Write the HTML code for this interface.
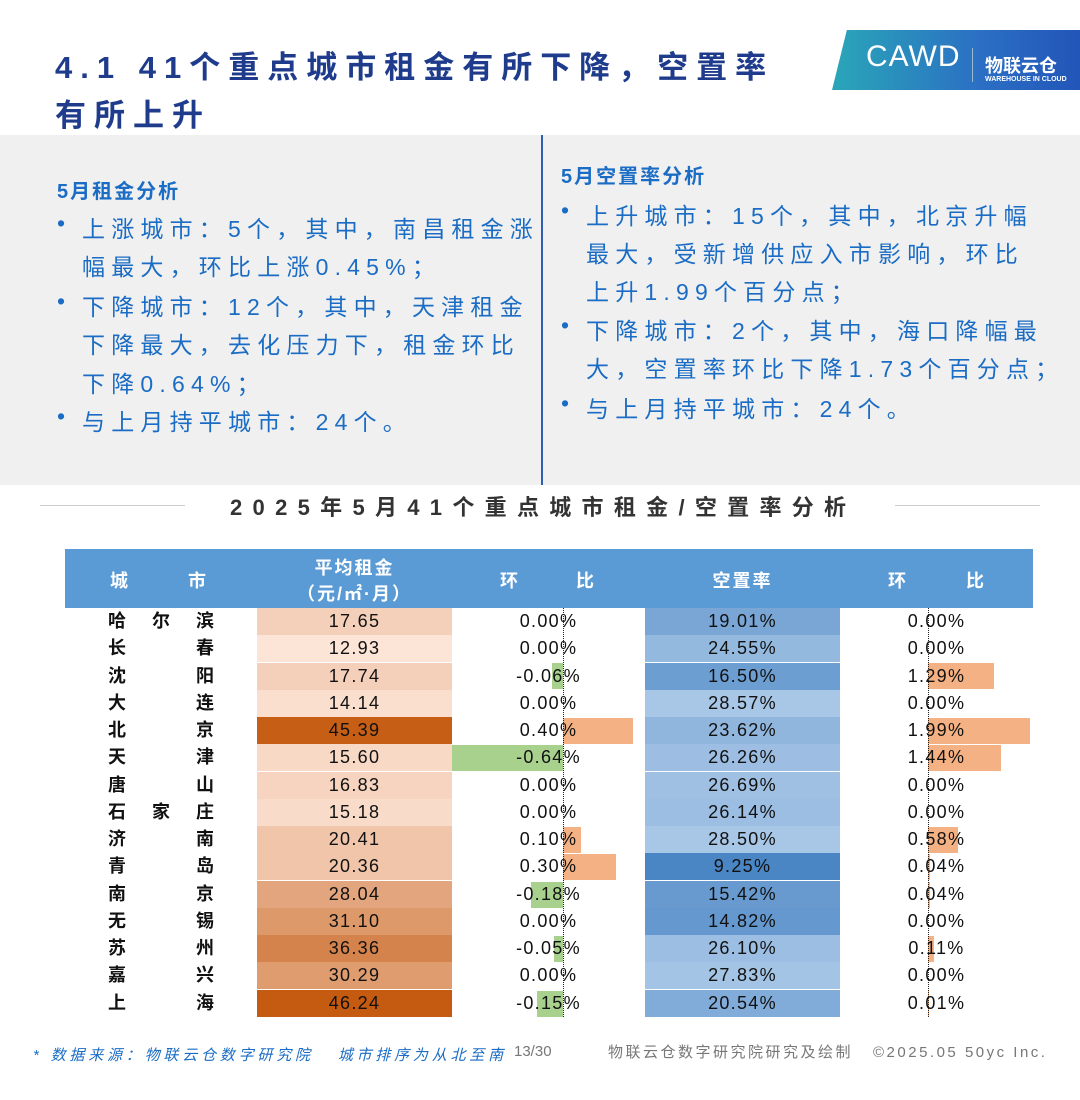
<!DOCTYPE html>
<html><head><meta charset="utf-8"><style>
*{margin:0;padding:0;box-sizing:border-box}
body{width:1080px;height:1100px;background:#fff;position:relative;overflow:hidden;font-family:"Liberation Sans","Noto Sans CJK SC",sans-serif}
.a{position:absolute;white-space:nowrap}
.t{color:#1f3b8c;font-weight:bold;font-size:31px;letter-spacing:8px}
.p{color:#1a6cc4;font-size:23px;letter-spacing:6.2px}
.h{color:#1a6cc4;font-size:20px;font-weight:bold;letter-spacing:2px}
.c{position:absolute;height:27px;line-height:27px;text-align:center;font-size:18px;color:#111;letter-spacing:1.3px}
.city{position:absolute;left:108px;width:106px;height:27px;line-height:27px;display:flex;justify-content:space-between;font-weight:bold;font-size:18px;color:#111}
.g{position:absolute;height:26px;background:#a9d18e}
.o{position:absolute;height:26px;background:#f4b183}
.hd{position:absolute;color:#fff;font-weight:bold;font-size:18px;text-align:center;letter-spacing:2px}
</style></head><body>
<div class="a t" style="left:55px;top:42px">4.1 41个重点城市租金有所下降，空置率</div>
<div class="a t" style="left:55px;top:90px">有所上升</div>
<div class="a" style="left:832px;top:30px;width:248px;height:60px;background:linear-gradient(90deg,#2aa6b8,#2b6fc4 60%,#2255b8);clip-path:polygon(6% 0,100% 0,100% 100%,0 100%)"></div>
<div class="a" style="left:866px;top:40px;color:#fff;font-size:30px;letter-spacing:1px">CAWD</div>
<div class="a" style="left:972px;top:48px;width:1px;height:34px;background:#9bc"></div>
<div class="a" style="left:985px;top:52px;color:#fff;font-size:18px;font-weight:bold">物联云仓</div>
<div class="a" style="left:985px;top:76px;color:#fff;font-size:7px;font-weight:bold">WAREHOUSE IN CLOUD</div>

<div class="a" style="left:0;top:135px;width:1080px;height:350px;background:#f0f0f0"></div>
<div class="a" style="left:541px;top:135px;width:2px;height:350px;background:#2f5fb0"></div>
<div class="a h" style="left:57px;top:175px">5月租金分析</div>
<div class="a p" style="left:57px;top:210px">•</div><div class="a p" style="left:82px;top:210px">上涨城市：5个，其中，南昌租金涨</div>
<div class="a p" style="left:82px;top:248px">幅最大，环比上涨0.45%；</div>
<div class="a p" style="left:57px;top:288px">•</div><div class="a p" style="left:82px;top:288px">下降城市：12个，其中，天津租金</div>
<div class="a p" style="left:82px;top:326px">下降最大，去化压力下，租金环比</div>
<div class="a p" style="left:82px;top:365px">下降0.64%；</div>
<div class="a p" style="left:57px;top:403px">•</div><div class="a p" style="left:82px;top:403px">与上月持平城市：24个。</div>

<div class="a h" style="left:561px;top:160px">5月空置率分析</div>
<div class="a p" style="left:561px;top:197px">•</div><div class="a p" style="left:586px;top:197px">上升城市：15个，其中，北京升幅</div>
<div class="a p" style="left:586px;top:235px">最大，受新增供应入市影响，环比</div>
<div class="a p" style="left:586px;top:273px">上升1.99个百分点；</div>
<div class="a p" style="left:561px;top:312px">•</div><div class="a p" style="left:586px;top:312px">下降城市：2个，其中，海口降幅最</div>
<div class="a p" style="left:586px;top:350px">大，空置率环比下降1.73个百分点；</div>
<div class="a p" style="left:561px;top:390px">•</div><div class="a p" style="left:586px;top:390px">与上月持平城市：24个。</div>

<div class="a" style="left:40px;top:505px;width:145px;height:1px;background:#ccc"></div>
<div class="a" style="left:895px;top:505px;width:145px;height:1px;background:#ccc"></div>
<div class="a" style="left:230px;top:490px;font-size:22px;font-weight:bold;color:#333;letter-spacing:10.3px">2025年5月41个重点城市租金/空置率分析</div>

<div class="a" style="left:65px;top:549px;width:968px;height:59px;background:#5b9bd5"></div>
<div class="hd" style="left:110px;top:567px">城</div><div class="hd" style="left:188px;top:567px">市</div>
<div class="hd" style="left:257px;top:554px;width:195px">平均租金</div>
<div class="hd" style="left:257px;top:580px;width:195px">（元/㎡·月）</div>
<div class="hd" style="left:500px;top:567px">环</div><div class="hd" style="left:576px;top:567px">比</div>
<div class="hd" style="left:645px;top:567px;width:195px">空置率</div>
<div class="hd" style="left:888px;top:567px">环</div><div class="hd" style="left:966px;top:567px">比</div>

<div class="g" style="left:552px;top:663px;width:11px"></div>
<div class="o" style="left:563px;top:718px;width:70px"></div>
<div class="g" style="left:451px;top:745px;width:112px"></div>
<div class="o" style="left:563px;top:827px;width:18px"></div>
<div class="o" style="left:563px;top:854px;width:53px"></div>
<div class="g" style="left:531px;top:882px;width:32px"></div>
<div class="g" style="left:554px;top:936px;width:9px"></div>
<div class="g" style="left:537px;top:991px;width:26px"></div>
<div class="o" style="left:928px;top:663px;width:66px"></div>
<div class="o" style="left:928px;top:718px;width:102px"></div>
<div class="o" style="left:928px;top:745px;width:73px"></div>
<div class="o" style="left:928px;top:827px;width:30px"></div>
<div class="o" style="left:928px;top:854px;width:2px"></div>
<div class="o" style="left:928px;top:882px;width:2px"></div>
<div class="o" style="left:928px;top:936px;width:6px"></div>
<div class="o" style="left:928px;top:991px;width:1px"></div>
<div class="a" style="left:563px;top:608px;height:409px;border-left:1px dotted #222"></div>
<div class="a" style="left:928px;top:608px;height:409px;border-left:1px dotted #222"></div>

<div class="city" style="top:608px"><span>哈</span><span>尔</span><span>滨</span></div>
<div class="c" style="left:257px;width:195px;top:608px;background:rgb(244,208,186)">17.65</div>
<div class="c" style="left:452px;width:193px;top:608px">0.00%</div>
<div class="c" style="left:645px;width:195px;top:608px;background:rgb(121,166,213)">19.01%</div>
<div class="c" style="left:840px;width:193px;top:608px">0.00%</div>

<div class="city" style="top:635px"><span>长</span><span>春</span></div>
<div class="c" style="left:257px;width:195px;top:635px;background:rgb(252,228,214)">12.93</div>
<div class="c" style="left:452px;width:193px;top:635px">0.00%</div>
<div class="c" style="left:645px;width:195px;top:635px;background:rgb(148,185,223)">24.55%</div>
<div class="c" style="left:840px;width:193px;top:635px">0.00%</div>

<div class="city" style="top:663px"><span>沈</span><span>阳</span></div>
<div class="c" style="left:257px;width:195px;top:663px;background:rgb(244,208,186)">17.74</div>
<div class="c" style="left:452px;width:193px;top:663px">-0.06%</div>
<div class="c" style="left:645px;width:195px;top:663px;background:rgb(109,158,209)">16.50%</div>
<div class="c" style="left:840px;width:193px;top:663px">1.29%</div>

<div class="city" style="top:690px"><span>大</span><span>连</span></div>
<div class="c" style="left:257px;width:195px;top:690px;background:rgb(250,223,207)">14.14</div>
<div class="c" style="left:452px;width:193px;top:690px">0.00%</div>
<div class="c" style="left:645px;width:195px;top:690px;background:rgb(168,198,230)">28.57%</div>
<div class="c" style="left:840px;width:193px;top:690px">0.00%</div>

<div class="city" style="top:717px"><span>北</span><span>京</span></div>
<div class="c" style="left:257px;width:195px;top:717px;background:rgb(198,94,22)">45.39</div>
<div class="c" style="left:452px;width:193px;top:717px">0.40%</div>
<div class="c" style="left:645px;width:195px;top:717px;background:rgb(144,182,221)">23.62%</div>
<div class="c" style="left:840px;width:193px;top:717px">1.99%</div>

<div class="city" style="top:744px"><span>天</span><span>津</span></div>
<div class="c" style="left:257px;width:195px;top:744px;background:rgb(248,217,198)">15.60</div>
<div class="c" style="left:452px;width:193px;top:744px">-0.64%</div>
<div class="c" style="left:645px;width:195px;top:744px;background:rgb(157,190,226)">26.26%</div>
<div class="c" style="left:840px;width:193px;top:744px">1.44%</div>

<div class="city" style="top:772px"><span>唐</span><span>山</span></div>
<div class="c" style="left:257px;width:195px;top:772px;background:rgb(246,212,191)">16.83</div>
<div class="c" style="left:452px;width:193px;top:772px">0.00%</div>
<div class="c" style="left:645px;width:195px;top:772px;background:rgb(159,192,227)">26.69%</div>
<div class="c" style="left:840px;width:193px;top:772px">0.00%</div>

<div class="city" style="top:799px"><span>石</span><span>家</span><span>庄</span></div>
<div class="c" style="left:257px;width:195px;top:799px;background:rgb(248,219,201)">15.18</div>
<div class="c" style="left:452px;width:193px;top:799px">0.00%</div>
<div class="c" style="left:645px;width:195px;top:799px;background:rgb(156,190,226)">26.14%</div>
<div class="c" style="left:840px;width:193px;top:799px">0.00%</div>

<div class="city" style="top:826px"><span>济</span><span>南</span></div>
<div class="c" style="left:257px;width:195px;top:826px;background:rgb(240,197,170)">20.41</div>
<div class="c" style="left:452px;width:193px;top:826px">0.10%</div>
<div class="c" style="left:645px;width:195px;top:826px;background:rgb(168,198,230)">28.50%</div>
<div class="c" style="left:840px;width:193px;top:826px">0.58%</div>

<div class="city" style="top:853px"><span>青</span><span>岛</span></div>
<div class="c" style="left:257px;width:195px;top:853px;background:rgb(240,197,170)">20.36</div>
<div class="c" style="left:452px;width:193px;top:853px">0.30%</div>
<div class="c" style="left:645px;width:195px;top:853px;background:rgb(74,134,196)">9.25%</div>
<div class="c" style="left:840px;width:193px;top:853px">0.04%</div>

<div class="city" style="top:881px"><span>南</span><span>京</span></div>
<div class="c" style="left:257px;width:195px;top:881px;background:rgb(227,165,125)">28.04</div>
<div class="c" style="left:452px;width:193px;top:881px">-0.18%</div>
<div class="c" style="left:645px;width:195px;top:881px;background:rgb(104,154,207)">15.42%</div>
<div class="c" style="left:840px;width:193px;top:881px">0.04%</div>

<div class="city" style="top:908px"><span>无</span><span>锡</span></div>
<div class="c" style="left:257px;width:195px;top:908px;background:rgb(222,153,107)">31.10</div>
<div class="c" style="left:452px;width:193px;top:908px">0.00%</div>
<div class="c" style="left:645px;width:195px;top:908px;background:rgb(101,152,206)">14.82%</div>
<div class="c" style="left:840px;width:193px;top:908px">0.00%</div>

<div class="city" style="top:935px"><span>苏</span><span>州</span></div>
<div class="c" style="left:257px;width:195px;top:935px;background:rgb(213,131,76)">36.36</div>
<div class="c" style="left:452px;width:193px;top:935px">-0.05%</div>
<div class="c" style="left:645px;width:195px;top:935px;background:rgb(156,190,226)">26.10%</div>
<div class="c" style="left:840px;width:193px;top:935px">0.11%</div>

<div class="city" style="top:962px"><span>嘉</span><span>兴</span></div>
<div class="c" style="left:257px;width:195px;top:962px;background:rgb(223,156,111)">30.29</div>
<div class="c" style="left:452px;width:193px;top:962px">0.00%</div>
<div class="c" style="left:645px;width:195px;top:962px;background:rgb(164,196,229)">27.83%</div>
<div class="c" style="left:840px;width:193px;top:962px">0.00%</div>

<div class="city" style="top:990px"><span>上</span><span>海</span></div>
<div class="c" style="left:257px;width:195px;top:990px;background:rgb(197,90,17)">46.24</div>
<div class="c" style="left:452px;width:193px;top:990px">-0.15%</div>
<div class="c" style="left:645px;width:195px;top:990px;background:rgb(129,171,216)">20.54%</div>
<div class="c" style="left:840px;width:193px;top:990px">0.01%</div>

<div class="a" style="left:33px;top:1044px;color:#1a6cc4;font-size:15px;font-style:italic;letter-spacing:3.8px">* 数据来源：物联云仓数字研究院&nbsp;&nbsp;&nbsp;城市排序为从北至南</div>
<div class="a" style="left:514px;top:1043px;color:#777;font-size:15px">13/30</div>
<div class="a" style="left:608px;top:1041px;color:#777;font-size:15px;letter-spacing:2.5px">物联云仓数字研究院研究及绘制&nbsp;&nbsp;&nbsp;©2025.05 50yc Inc.</div>
</body></html>
